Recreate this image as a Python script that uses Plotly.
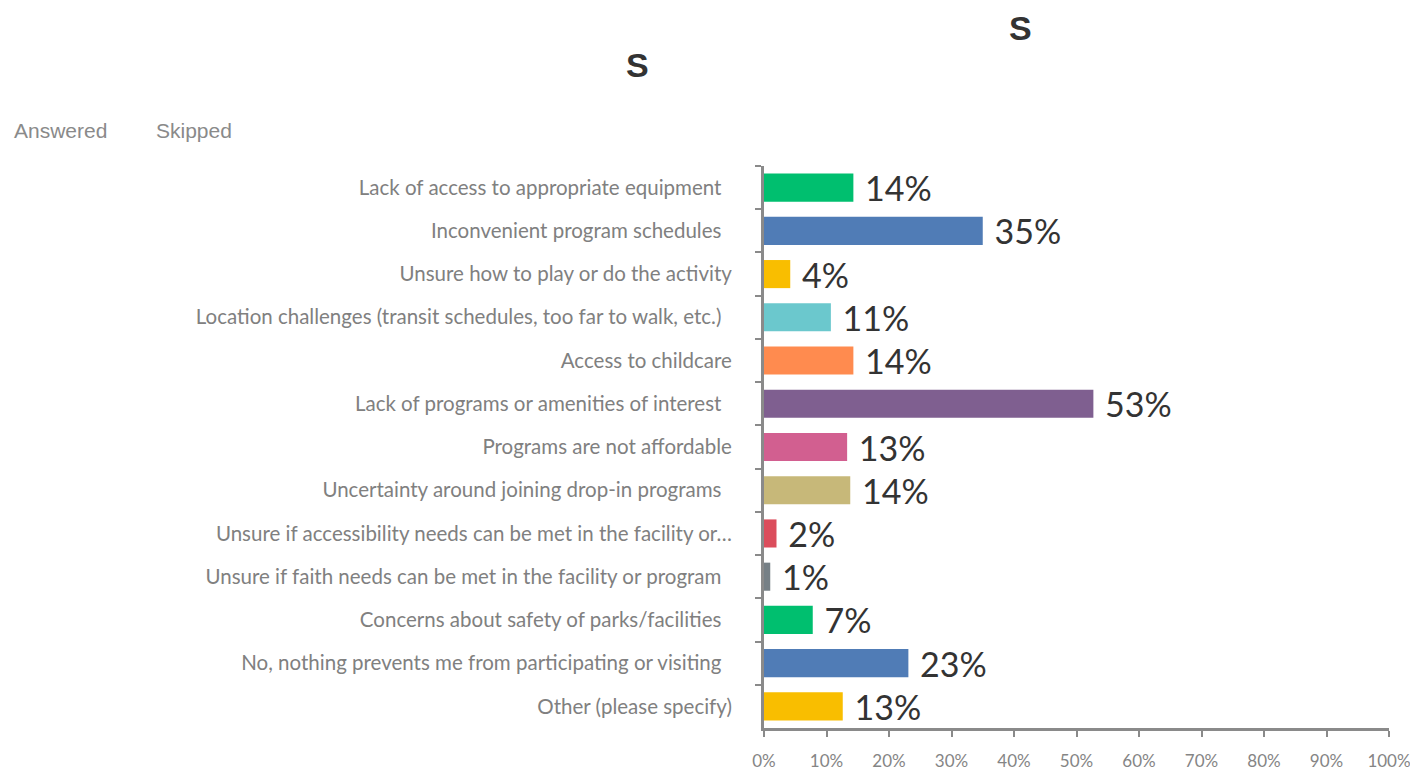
import plotly.graph_objects as go

categories = [
    "Lack of access to appropriate equipment\u00a0\u00a0",
    "Inconvenient program schedules\u00a0\u00a0",
    "Unsure how to play or do the activity",
    "Location challenges (transit schedules, too far to walk, etc.)\u00a0\u00a0",
    "Access to childcare",
    "Lack of programs or amenities of interest\u00a0\u00a0",
    "Programs are not affordable",
    "Uncertainty around joining drop-in programs\u00a0\u00a0",
    "Unsure if accessibility needs can be met in the facility or…",
    "Unsure if faith needs can be met in the facility or program\u00a0\u00a0",
    "Concerns about safety of parks/facilities\u00a0\u00a0",
    "No, nothing prevents me from participating or visiting\u00a0\u00a0",
    "Other (please specify)",
]
values = [14.3, 35.0, 4.2, 10.7, 14.3, 52.7, 13.3, 13.8, 2.0, 1.0, 7.8, 23.1, 12.6]
value_labels = ["14%", "35%", "4%", "11%", "14%", "53%", "13%", "14%", "2%", "1%", "7%", "23%", "13%"]
bar_colors = ["#00BF6F", "#507CB6", "#F9BE00", "#6BC8CD", "#FF8B4F", "#7F5F90",
              "#D25F90", "#C7B879", "#DB4D5C", "#768086", "#00BF6F", "#507CB6", "#F9BE00"]
x_tick_vals = [0, 10, 20, 30, 40, 50, 60, 70, 80, 90, 100]
x_tick_text = [f"{v}%" for v in x_tick_vals]

# the page adds an 8px body margin, so figure coordinates = page coordinates - 8
OFF = 8
W, H = 1418, 772
pl, pr, pt, pb = 764 - OFF, W - (1389 - OFF), 166 - OFF, H - (728 - OFF)
pw, ph = W - pl - pr, H - pt - pb

fig = go.Figure(go.Bar(
    x=values,
    y=categories,
    orientation="h",
    marker=dict(color=bar_colors, line=dict(width=0)),
    text=["\u00a0" + t for t in value_labels],
    textposition="outside",
    constraintext="none",
    textfont=dict(family="Lato, sans-serif", size=34, color="#333333"),
    cliponaxis=False,
    hoverinfo="skip",
))

axis_grey = "#8a8a8a"
fig.update_layout(
    width=W, height=H,
    margin=dict(l=pl, r=pr, t=pt, b=pb, autoexpand=False),
    paper_bgcolor="white", plot_bgcolor="white",
    bargap=0.35,
    showlegend=False,
    xaxis=dict(
        range=[0, 100], tickvals=x_tick_vals, ticktext=x_tick_text,
        showgrid=False, zeroline=False, automargin=False,
        showline=True, linecolor=axis_grey, linewidth=3,
        ticks="outside", ticklen=6, tickwidth=2, tickcolor=axis_grey,
        tickfont=dict(family="Lato, sans-serif", size=17, color="#858585"),
        ticklabelstandoff=10,
    ),
    yaxis=dict(
        type="category", categoryorder="array", categoryarray=categories,
        autorange="reversed", automargin=False,
        showgrid=False, zeroline=False,
        showline=True, linecolor=axis_grey, linewidth=3,
        ticks="outside", ticklen=6, tickwidth=2, tickcolor=axis_grey,
        tickson="boundaries",
        tickfont=dict(family="Lato, sans-serif", size=20.5, color="#808080"),
        ticklabelstandoff=25,
    ),
)

def px(xp):
    return (xp - OFF - pl) / pw

def py(yp):
    return (H - pb - (yp - OFF)) / ph

# top title letter: anchored to the top edge of the figure
fig.add_annotation(
    text="<b>S</b>", x=px(1020), y=py(OFF), xref="paper", yref="paper",
    xanchor="center", yanchor="top", showarrow=False, borderpad=0,
    font=dict(family="Liberation Sans, Arial, sans-serif", size=34, color="#333333"),
)
for txt, xp, yp, size, color, bold in [
    ("S", 637, 65, 34, "#333333", True),
    ("Answered", 60, 130, 21, "#8a8a8a", False),
    ("Skipped", 194, 130, 21, "#8a8a8a", False),
]:
    fig.add_annotation(
        text=f"<b>{txt}</b>" if bold else txt,
        x=px(xp), y=py(yp), xref="paper", yref="paper",
        xanchor="center", yanchor="middle", showarrow=False,
        font=dict(family="Liberation Sans, Arial, sans-serif", size=size, color=color),
    )

fig.write_html("out.html")
